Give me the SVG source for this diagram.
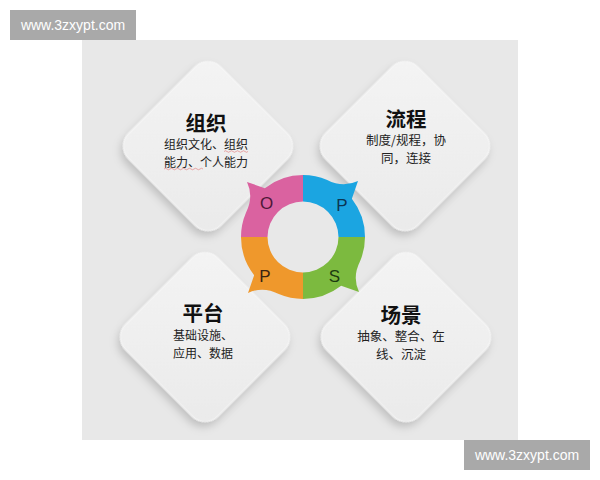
<svg xmlns="http://www.w3.org/2000/svg" width="600" height="480" viewBox="0 0 600 480">
<style>
.wm{fill:#a9a9a9}
.wmt{font-family:"Liberation Sans",Arial,sans-serif;font-size:14px;fill:#ffffff;text-anchor:middle}
.card{fill:url(#cardGrad);stroke:#f8f8f8;stroke-width:1;filter:url(#shadow)}
.title{font-family:"Noto Sans CJK SC","Noto Sans",sans-serif;font-size:20.5px;font-weight:700;fill:#111111;text-anchor:middle}
.sub{font-family:"Noto Sans CJK SC","Noto Sans",sans-serif;font-size:12px;fill:#222222;text-anchor:middle}
.let{font-family:"Liberation Sans",Arial,sans-serif;font-size:17px;text-anchor:middle}
.squig{fill:none;stroke:#e06a6a;stroke-width:0.8;opacity:0.7}
</style>
<defs>
<linearGradient id="cardGrad" x1="0" y1="0" x2="1" y2="1">
<stop offset="0" stop-color="#f4f4f4"/>
<stop offset="1" stop-color="#eaeaea"/>
</linearGradient>
<filter id="shadow" x="-30%" y="-30%" width="160%" height="160%">
<feDropShadow dx="2" dy="5" stdDeviation="4" flood-color="#000000" flood-opacity="0.18"/>
</filter>
<path id="quad" d="M267.5,237 L241,237 A62,62 0 0 1 245.93,212.78 Q254,197 247,182 L264.83,188.14 A62,62 0 0 1 303,175 L303,201.5 A35.5,35.5 0 0 0 267.5,237 Z"/>
</defs>

<rect x="0" y="0" width="600" height="480" fill="#ffffff"/>
<rect x="82" y="40" width="436" height="400" fill="#e8e8e8"/>

<g id="node-zuzhi">
<rect class="card" x="-65" y="-65" width="130" height="130" rx="18" transform="translate(208,146) rotate(45)"/>
<text class="title" x="206" y="130.5">组织</text>
<text class="sub" x="206" y="149">组织文化、组织</text>
<text class="sub" x="206" y="166.5">能力、个人能力</text>
<path class="squig" d="M224,151.5 q1.5,-1.5 3,0 t3,0 t3,0 t3,0 t3,0 t3,0 t3,0 t3,0"/>
<path class="squig" d="M164,169 q1.5,-1.5 3,0 t3,0 t3,0 t3,0 t3,0 t3,0 t3,0 t3,0 t3,0 t3,0 t3,0 t3,0 t3,0"/>
</g>

<g id="node-liucheng">
<rect class="card" x="-65" y="-65" width="130" height="130" rx="18" transform="translate(405,146) rotate(45)"/>
<text class="title" x="406" y="126.5">流程</text>
<text class="sub" x="406" y="145" style="font-size:12.5px">制度/规程，协</text>
<text class="sub" x="406" y="163.2" style="font-size:12.5px">同，连接</text>
</g>

<g id="node-pingtai">
<rect class="card" x="-65" y="-65" width="130" height="130" rx="18" transform="translate(205,337) rotate(45)"/>
<text class="title" x="203" y="321">平台</text>
<text class="sub" x="173" y="340" style="text-anchor:start">基础设施、</text>
<text class="sub" x="173" y="357.5" style="text-anchor:start">应用、数据</text>
</g>

<g id="node-changjing">
<rect class="card" x="-65" y="-65" width="130" height="130" rx="18" transform="translate(406,337) rotate(45)"/>
<text class="title" x="401" y="322.5">场景</text>
<text class="sub" x="401" y="341" style="font-size:12.5px">抽象、整合、在</text>
<text class="sub" x="401" y="359.2" style="font-size:12.5px">线、沉淀</text>
</g>

<g id="node-ops-ring">
<use href="#quad" fill="#da62a0"/>
<use href="#quad" fill="#1ba5e1" transform="rotate(90,303,237)"/>
<use href="#quad" fill="#7cba3f" transform="rotate(180,303,237)"/>
<use href="#quad" fill="#ef982c" transform="rotate(270,303,237)"/>
<text class="let" x="266.5" y="208.5" fill="#4e1838">O</text>
<text class="let" x="342" y="210.7" fill="#0b3654">P</text>
<text class="let" x="265" y="281.7" fill="#3b2411">P</text>
<text class="let" x="334.5" y="282" fill="#1c3a10">S</text>
</g>

<g id="connectors"></g>

<g id="watermark-top">
<rect class="wm" x="10" y="10" width="126" height="30"/>
<text class="wmt" x="73" y="30">www.3zxypt.com</text>
</g>
<g id="watermark-bottom">
<rect class="wm" x="464" y="440" width="126" height="30"/>
<text class="wmt" x="527" y="460">www.3zxypt.com</text>
</g>
</svg>
